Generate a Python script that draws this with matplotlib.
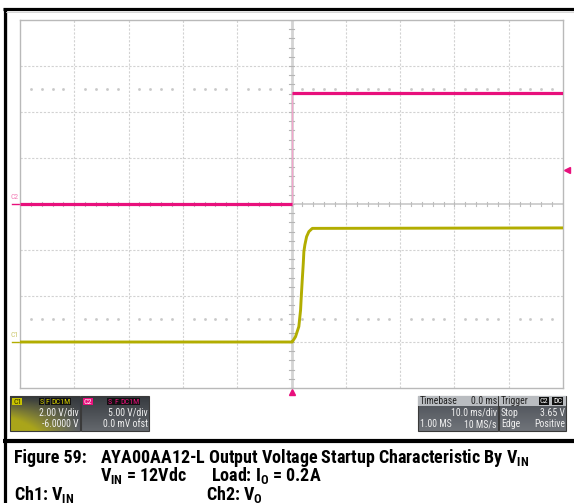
import numpy as np
import matplotlib
matplotlib.use("Agg")
import matplotlib.pyplot as plt
from matplotlib.patches import Rectangle

# scope settings
time_div = 10.0                     # ms/div
c1_scale, c1_offset = 2.0, -6.0     # V/div, V
c2_scale, c2_offset = 5.0, 0.0
trig_level = 3.65                   # V, on C2

# C1 trace (yellow), time in ms, volts
c1_t = [-50, 0.0, 0.13, 0.74, 1.35, 1.67, 1.80, 1.98, 2.17, 2.28, 2.46, 2.78, 3.20, 3.83, 50]
c1_v = [0.0, 0.0, 0.0, 0.23, 0.67, 1.39, 1.97, 2.70, 3.42, 3.93, 4.22, 4.58, 4.80, 4.94, 4.96]

# C2 trace (pink)
c2_t = [-50, 0.0, 0.0, 50]
c2_v = [0.0, 0.0, 12.1, 12.1]

YEL = '#b2ad00'
PINK = '#e8107c'
NARROW = 'Roboto Condensed'

plt.rcParams['mathtext.fontset'] = 'custom'
plt.rcParams['mathtext.rm'] = NARROW + ':bold'
plt.rcParams['mathtext.it'] = NARROW + ':bold'
plt.rcParams['mathtext.bf'] = NARROW + ':bold'

W, H = 574, 503
fig = plt.figure(figsize=(W / 100, H / 100), dpi=100)
fig.patch.set_facecolor('white')

# overlay axes in pixel coords
ax0 = fig.add_axes([0, 0, 1, 1])
ax0.set_xlim(0, W)
ax0.set_ylim(H, 0)
ax0.axis('off')

# scope grid axes: box 20..563 x 20..388 px
gx0, gx1, gy0, gy1 = 20, 563, 20, 388
ax = fig.add_axes([gx0 / W, (H - gy1) / H, (gx1 - gx0) / W, (gy1 - gy0) / H])
ax.set_zorder(2)
ax.set_xlim(-5 * time_div, 5 * time_div)
ax.set_ylim(-4, 4)
ax.set_xticks([])
ax.set_yticks([])
for s in ax.spines.values():
    s.set_color('#b9b9b9')
    s.set_linewidth(1.0)

for t in np.arange(-40, 41, 10):
    if t != 0:
        ax.axvline(t, color='#d2d2d2', lw=0.8, ls=(0, (2, 1.5)), zorder=1)
for v in range(-3, 4):
    if v != 0:
        ax.axhline(v, color='#d2d2d2', lw=0.8, ls=(0, (2, 1.5)), zorder=1)
ax.axhline(0, color='#c4c4c4', lw=1.1, zorder=1)
ax.axvline(0, color='#d4d4d4', lw=2.0, zorder=1)
# minor ticks along centre lines
for t in np.arange(-50, 50.1, 2):
    ax.plot([t, t], [-0.05, 0.05], color='#bdbdbd', lw=0.8, zorder=1)
for v in np.arange(-4, 4.01, 0.2):
    ax.plot([-0.55, 0.55], [v, v], color='#b5b5b5', lw=0.8, zorder=1)
# dotted rows at +/-2.5 div
dots_t = [t for t in np.arange(-48, 50, 2) if t % 10 != 0]
for v in (2.5, -2.5):
    ax.plot(dots_t, [v] * len(dots_t), ls='none', marker='s', ms=0.9,
            color='#c8c8c8', zorder=1)

# traces
c1_div = [(v + c1_offset) / c1_scale for v in c1_v]
c2_div = [(v + c2_offset) / c2_scale for v in c2_v]
ax.plot(c1_t, c1_div, color=YEL, lw=2.1, zorder=4, solid_joinstyle='round')
ax.plot(c2_t[1:3], c2_div[1:3], color='#f2a6cc', lw=1.0, zorder=3)
ax.plot(c2_t[:2], c2_div[:2], color=PINK, lw=2.3, zorder=4, solid_capstyle='butt')
ax.plot(c2_t[2:], c2_div[2:], color=PINK, lw=2.3, zorder=4, solid_capstyle='butt')

# channel ground markers, trigger markers
ax.plot([-51.5, -50], [c2_div[0]] * 2, color=PINK, lw=1.0, clip_on=False)
ax.text(-51.0, c2_div[0] + 0.08, 'C2', color='#f27ab4', fontsize=5.5, ha='center',
        va='bottom', family=NARROW, clip_on=False)
ax.plot([-51.5, -50], [c1_div[0]] * 2, color=YEL, lw=1.0, clip_on=False)
ax.text(-51.0, c1_div[0] + 0.08, 'C1', color='#cbc66a', fontsize=5.5, ha='center',
        va='bottom', family=NARROW, clip_on=False)
ax.plot(50.8, (trig_level + c2_offset) / c2_scale, marker='<', ms=5, color=PINK,
        clip_on=False)
ax.plot(0, -4.09, marker='^', ms=5, color=PINK, clip_on=False)

# LeCroy logo
ax0.text(561, 32, 'LeCroy', fontsize=7.5, color='#555555', ha='right', va='baseline',
         family='Liberation Sans')
ax0.plot([525, 561], [34, 34], color='#555555', lw=0.7)

# frame lines
ax0.plot([4.5, 4.5], [7.5, H], color='black', lw=2.3, solid_capstyle='butt')
ax0.plot([3, W], [9, 9], color='black', lw=2.3, solid_capstyle='butt')
ax0.plot([6.5, 6.5], [11, 437], color='#d0d0d0', lw=0.6)
ax0.plot([6, W], [11.5, 11.5], color='#d0d0d0', lw=0.6)
ax0.plot([3, W], [441, 441], color='black', lw=3.0, solid_capstyle='butt')


def gray_box(x0, y0, w, h, top, bottom, glow=None):
    n = 40
    f = np.linspace(0, 1, n)[:, None, None]
    top = np.array(matplotlib.colors.to_rgb(top))
    bottom = np.array(matplotlib.colors.to_rgb(bottom))
    img = top * (1 - f) + bottom * f
    img = np.repeat(img, n, axis=1)
    if glow is not None:
        gx = np.linspace(1, 0, n)[None, :, None]
        a = np.clip(f * gx * 1.6, 0, 1) ** 1.2
        img = img * (1 - a) + np.array(matplotlib.colors.to_rgb(glow)) * a
    ax0.imshow(img, extent=[x0, x0 + w, y0 + h, y0], aspect='auto', zorder=3,
               interpolation='bilinear')
    ax0.add_patch(Rectangle((x0, y0), w, h, fill=False, ec='#3a3a3a', lw=0.8, zorder=4))


def tag(x, y, s, fc, tc, size=5.8):
    ax0.text(x, y, s, fontsize=size, color=tc, family=NARROW, ha='left', va='center',
             zorder=6, bbox=dict(boxstyle='square,pad=0.1', fc=fc, ec='none'))


def ui(x, y, s, ha='right', color='#f0f0f0', size=7.0):
    ax0.text(x, y, s, fontsize=size, color=color, family=NARROW, ha=ha, va='center',
             zorder=6)


# C1 box
gray_box(10, 396, 70, 35, '#33373c', '#5f6368', glow='#aaa51a')
tag(13, 401.5, 'C1', '#c9c400', '#2a2a00')
tag(39.5, 401.5, 'S', '#111111', '#d8d200')
tag(45.5, 401.5, 'F', '#111111', '#d8d200')
tag(51.5, 401.5, 'DC1M', '#111111', '#d8d200')
ui(79, 413, '2.00 V/div')
ui(79, 424, '-6.0000 V')

# C2 box
gray_box(81, 396, 68, 35, '#363a3f', '#64686d')
tag(84, 401.5, 'C2', PINK, '#ffffff')
tag(108, 401.5, 'S', '#111111', PINK)
tag(114, 401.5, 'F', '#111111', PINK)
tag(120, 401.5, 'DC1M', '#111111', PINK)
ui(148, 413, '5.00 V/div')
ui(148, 424, '0.0 mV ofst')

# Timebase box
gray_box(418, 396, 80, 35, '#4a4e55', '#70747a')
ax0.add_patch(Rectangle((418, 396), 80, 10, fc='#b9bcc0', ec='none', zorder=5))
ui(420, 401, 'Timebase', ha='left', color='#222222')
ui(497, 401, '0.0 ms', color='#222222')
ui(497, 413, '10.0 ms/div')
ui(420, 424, '1.00 MS', ha='left')
ui(497, 424, '10 MS/s')

# Trigger box
gray_box(499, 396, 67, 35, '#4a4e55', '#70747a')
ax0.add_patch(Rectangle((499, 396), 67, 10, fc='#b9bcc0', ec='none', zorder=5))
ui(501, 401, 'Trigger', ha='left', color='#222222')
tag(540, 401, 'C2', '#111111', '#ffffff')
tag(553, 401, 'DC', '#111111', '#ffffff')
ui(501, 413, 'Stop', ha='left')
ui(565, 413, '3.65 V')
ui(501, 424, 'Edge', ha='left')
ui(565, 424, 'Positive')

# caption
cap = dict(fontsize=13, fontweight='bold', family=NARROW, va='baseline', color='black')
ax0.text(14, 463, 'Figure 59:', **cap)
ax0.text(100, 463, r'AYA00AA12-L Output Voltage Startup Characteristic By V$_{\mathrm{IN}}$', **cap)
ax0.text(100, 481, r'V$_{\mathrm{IN}}$ = 12Vdc', **cap)
ax0.text(211, 481, r'Load: I$_{\mathrm{O}}$ = 0.2A', **cap)
ax0.text(14, 500, r'Ch1: V$_{\mathrm{IN}}$', **cap)
ax0.text(206, 500, r'Ch2: V$_{\mathrm{O}}$', **cap)

ax0.set_xlim(0, W)
ax0.set_ylim(H, 0)
fig.savefig('out.png', dpi=100)
